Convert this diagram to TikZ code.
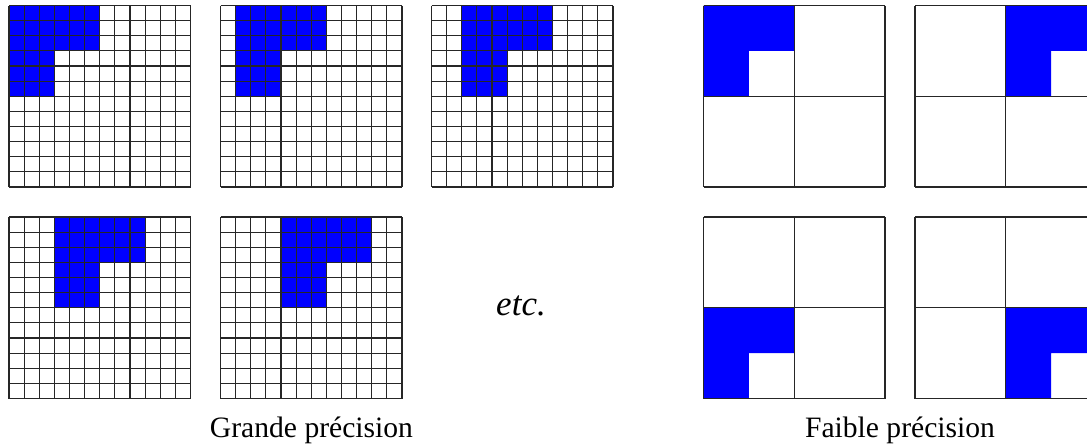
\documentclass[tikz,border=0pt]{standalone}
\usepackage{fontspec}
\setmainfont{Liberation Serif}
\definecolor{pixblue}{RGB}{0,0,255}
\usetikzlibrary{positioning}

\begin{document}
\begin{tikzpicture}[x=0.5pt, y=-0.5pt,
  gridline/.style={draw=black!85, line width=0.6pt},
  pixel/.style={fill=pixblue},
  caption/.style={font=\fontsize{14.8}{17}\selectfont, anchor=base},
]
  \useasboundingbox (0,0) rectangle (1087,445);
  \clip (0,0) rectangle (1087,445);

  % fine grids, 12x12, the shape moves one column each time
  \foreach \gx/\gy/\s in {9/5.5/0, 220.5/5.5/1, 431.5/5.5/2, 9/217/3, 220.5/217/4} {
    \begin{scope}[shift={(\gx,\gy)}, x=7.5625pt, y=-7.5625pt]
      \fill[pixel] (\s,0) -- ++(6,0) -- ++(0,3) -- ++(-3,0) -- ++(0,3) -- ++(-3,0) -- cycle;
      \foreach \i in {0,...,12} {
        \draw[gridline] (\i,0) -- (\i,12);
        \draw[gridline] (0,\i) -- (12,\i);
      }
    \end{scope}
  }

  % coarse grids, 2x2
  \foreach \gx/\gy/\c/\r in {703.5/5.5/0/0, 915/5.5/1/0, 703.5/217/0/1, 915/217/1/1} {
    \begin{scope}[shift={(\gx,\gy)}, x=45.375pt, y=-45.375pt]
      \fill[pixel] (\c,\r) -- ++(1,0) -- ++(0,0.5) -- ++(-0.5,0) -- ++(0,0.5) -- ++(-0.5,0) -- cycle;
      \foreach \i in {0,1,2} {
        \draw[gridline] (\i,0) -- (\i,2);
        \draw[gridline] (0,\i) -- (2,\i);
      }
    \end{scope}
  }

  \node[font=\fontsize{17.5}{20}\selectfont\itshape, anchor=base] (etc) at (521,315) {etc.};
  \node[caption] (fine) at (311.5,437) {Grande précision};
  \node[caption] (coarse) at (900,437) {Faible précision};
\end{tikzpicture}
\end{document}
